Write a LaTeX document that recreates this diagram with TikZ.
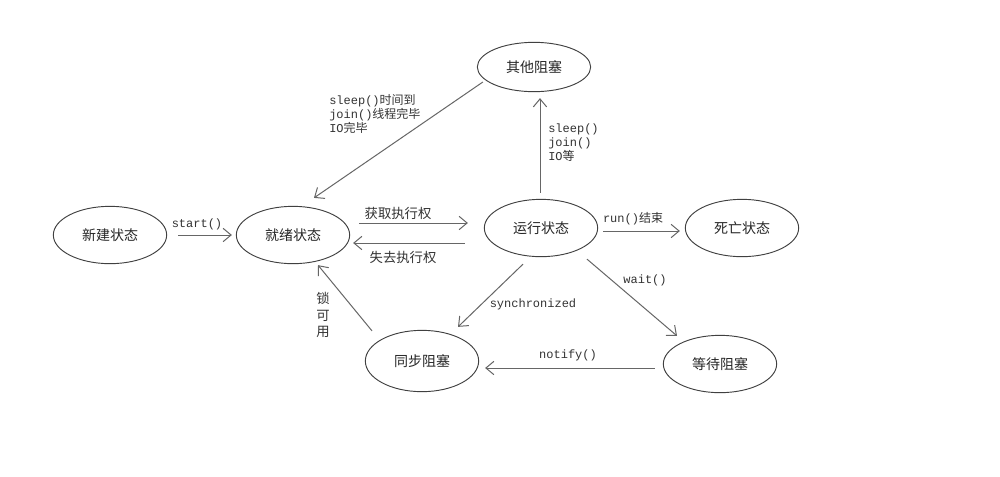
\documentclass[tikz,border=0pt]{standalone}
\usepackage{fontspec}
\newfontfamily\cjk{Noto Sans CJK SC}
\newfontfamily\mono{Liberation Mono}
\usetikzlibrary{arrows.meta,shapes.geometric,calc}
\begin{document}
\begin{tikzpicture}[x=0.75pt,y=-0.75pt,
  state/.style={draw=black!75,line width=0.7pt,ellipse,inner sep=0pt,
    minimum width=85pt,minimum height=43pt,font=\cjk\fontsize{10.5}{12}\selectfont,text=black!85},
  arr/.style={draw=black!60,line width=0.75pt,-{Straight Barb[length=6pt,width=10pt,line width=0.75pt]}},
  lbl/.style={font=\mono\fontsize{9}{10.5}\selectfont,text=black!80,inner sep=0pt,align=left},
  clbl/.style={font=\cjk\fontsize{10}{12}\selectfont,text=black!80,inner sep=0pt}]
\useasboundingbox (0,0) rectangle (1000,476);
\fill[white] (0,0) rectangle (1000,476);
% states
\node[state] (new)   at (110,235) {新建状态};
\node[state] (ready) at (293,235) {就绪状态};
\node[state] (run)   at (541,228) {运行状态};
\node[state] (dead)  at (742,228) {死亡状态};
\node[state,minimum height=37pt] (other) at (534,67) {其他阻塞};
\node[state,minimum height=46pt] (sync)  at (422,361) {同步阻塞};
\node[state] (wait)  at (720,364) {等待阻塞};
% edges
\draw[arr] ($(new.east)+(11,0)$) -- ($(ready.west)+(-4,0)$);
\draw[arr] ($(ready.east)+(9,-12)$) -- ($(run.west)+(-16,-5)$);
\draw[arr] ($(run.west)+(-19,15)$) -- ($(ready.east)+(3,8)$);
\draw[arr] ($(run.east)+(5,3)$) -- ($(dead.west)+(-5,3)$);
\draw[arr] ($(run.north)+(-1,-6)$) -- ($(other.south)+(6,6)$);
\draw[arr] ($(other.west)+(6,15)$) -- ($(ready.north)+(21,-8)$);
\draw[arr] ($(run.south)+(-18,7)$) -- ($(sync.north)+(36,-3)$);
\draw[arr] ($(run.south)+(46,2)$) -- ($(wait.north)+(-43,1)$);
\draw[arr] ($(wait.west)+(-8,4)$) -- ($(sync.east)+(6,7)$);
\draw[arr] ($(sync.north)+(-50,1)$) -- ($(ready.south)+(25,1)$);
% labels
\node[lbl] (lstart) at (197,224) {start()};
\node[clbl] (lget) at (398,213) {获取执行权};
\node[clbl] (llose) at (403,257) {失去执行权};
\node[lbl] (lend) at (633,219) {run(){\cjk 结束}};
\node[lbl,anchor=west] (lsleep) at (548,143) {sleep()\\join()\\IO{\cjk 等}};
\node[lbl,anchor=west] (lback) at (329,114) {sleep(){\cjk 时间到}\\join(){\cjk 线程完毕}\\IO{\cjk 完毕}};
\node[lbl] (lsync) at (533,304) {synchronized};
\node[lbl] (lwait) at (645,280) {wait()};
\node[lbl] (lnotify) at (568,355) {notify()};
\node[clbl,align=center,font=\cjk\fontsize{10}{12.5}\selectfont] (llock) at (323,315) {锁\\可\\用};
\end{tikzpicture}
\end{document}
